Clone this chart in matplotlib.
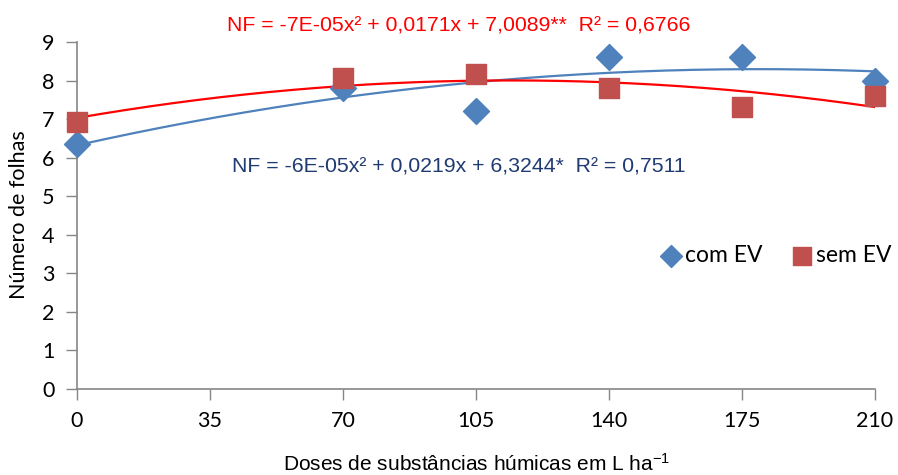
import numpy as np
import matplotlib.pyplot as plt

plt.rcParams['mathtext.default'] = 'regular'

# data
doses = [0, 70, 105, 140, 175, 210]
com_ev = [6.35, 7.80, 7.21, 8.61, 8.61, 8.00]
sem_ev = [6.92, 8.08, 8.16, 7.81, 7.31, 7.60]
xticks = [0, 35, 70, 105, 140, 175, 210]
yticks = list(range(10))
eq_sem = 'NF = -7E-05x² + 0,0171x + 7,0089**  R² = 0,6766'
eq_com = 'NF = -6E-05x² + 0,0219x + 6,3244*  R² = 0,7511'

blue = '#4F81BD'
red = '#C0504D'
axis_grey = '#868686'
tick_font = 'Lato'
text_font = 'Liberation Sans'

fig = plt.figure(figsize=(8.98, 4.75), dpi=100)
ax = fig.add_axes([0.0857, 0.181, 0.8887, 0.7305])

#quadratic trend lines, fitted from the points
xs = np.linspace(0, 210, 200)
c_com = np.polyfit(doses, com_ev, 2)
c_sem = np.polyfit(doses, sem_ev, 2)
ax.plot(xs, np.polyval(c_com, xs), color=blue, lw=1.6, zorder=2)
ax.plot(xs, np.polyval(c_sem, xs), color='#FF0000', lw=1.6, zorder=2)

ax.scatter(doses, com_ev, marker='D', s=175, color=blue, label='com EV', zorder=3, clip_on=False)
ax.scatter(doses, sem_ev, marker='s', s=200, color=red, label='sem EV', zorder=4, clip_on=False)

ax.set_xlim(0, 210)
ax.set_ylim(0, 9)
ax.set_xticks(xticks)
ax.set_yticks(yticks)
ax.tick_params(axis='both', direction='out', color=axis_grey, width=1, length=8,
               labelsize=15.5, pad=8)
for lab in ax.get_xticklabels() + ax.get_yticklabels():
    lab.set_fontfamily(tick_font)
for s in ['top', 'right']:
    ax.spines[s].set_visible(False)
for s in ['left', 'bottom']:
    ax.spines[s].set_color(axis_grey)
    ax.spines[s].set_linewidth(1.2)

ax.set_ylabel('Número de folhas', fontsize=15.5, family=tick_font, va='center', ha='center')
ax.yaxis.set_label_coords(-0.0727, 0.504)
ax.set_xlabel('Doses de substâncias húmicas em L ha$^{-1}$', fontsize=15,
              family=text_font, va='center', ha='center')
ax.xaxis.set_label_coords(0.501, -0.216)

ax.text(0.478, 1.046, eq_sem, transform=ax.transAxes, ha='center', va='center',
        color='#FF0000', fontsize=15.3, family=text_font)
ax.text(0.479, 0.640, eq_com, transform=ax.transAxes, ha='center', va='center',
        color='#203A72', fontsize=15.3, family=text_font)

leg = ax.legend(loc='center', bbox_to_anchor=(0.876, 0.386), ncol=2, frameon=False,
                handletextpad=0.15, columnspacing=1.3, handlelength=0.9,
                borderpad=0, prop={'family': tick_font, 'size': 16.5})
sizes = [125, 185]
for h, sz in zip(leg.legend_handles, sizes):
    h.set_sizes([sz])

fig.savefig('out.png', dpi=100)
